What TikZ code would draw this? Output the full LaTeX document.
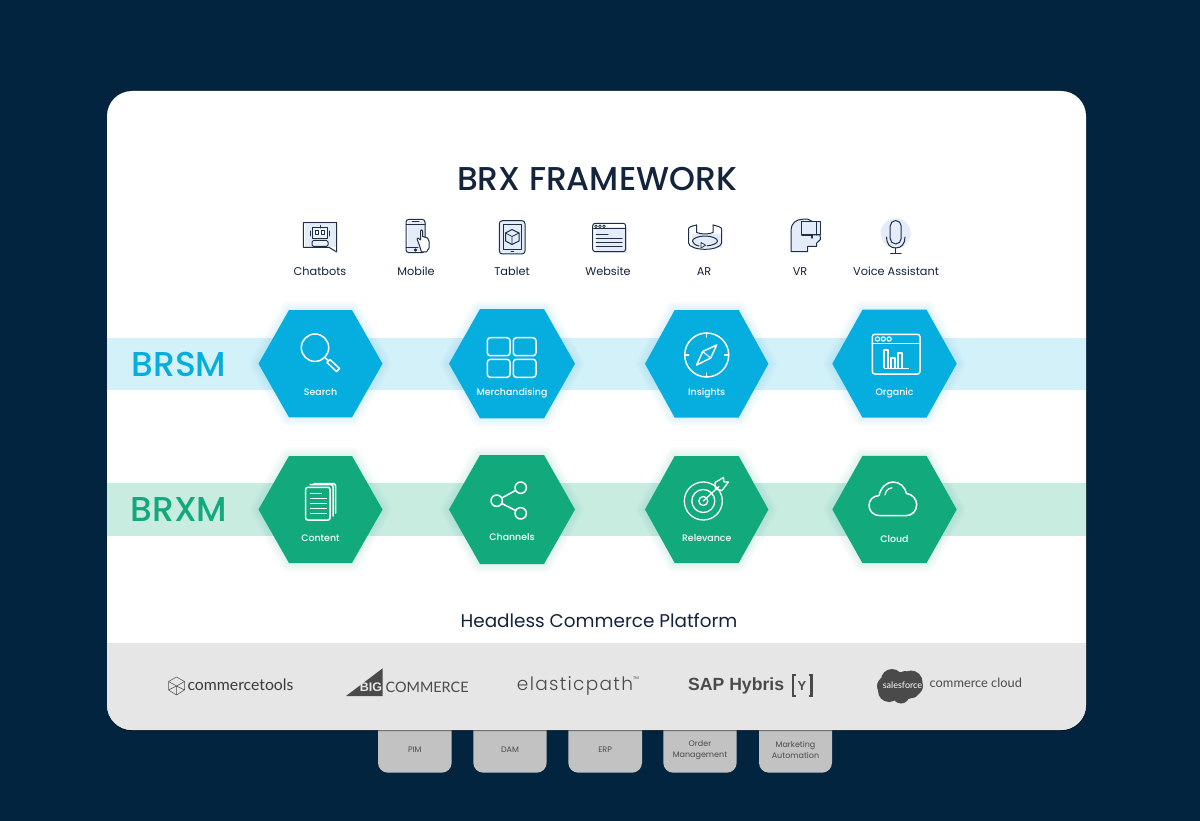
\documentclass[tikz,border=0pt]{standalone}
\usepackage{fontspec}
\setmainfont{Poppins}
\newfontfamily\pmed{Poppins Medium}
\newfontfamily\plightw[LetterSpace=7]{Poppins Light}
\newfontfamily\latof{Lato}
\newfontfamily\sansb{Liberation Sans}
\definecolor{bgnavy}{HTML}{03243F}
\definecolor{bluehex}{HTML}{05AEDF}
\definecolor{blueband}{HTML}{D3F1F9}
\definecolor{greenhex}{HTML}{12A97C}
\definecolor{greenband}{HTML}{C9ECE1}
\definecolor{grayband}{HTML}{E6E6E6}
\definecolor{tabgray}{HTML}{C2C2C2}
\definecolor{titleink}{HTML}{14243C}
\definecolor{iconink}{HTML}{1E2F45}
\definecolor{iconfill}{HTML}{E3ECF8}
\definecolor{logoink}{HTML}{4A4A4A}
\tikzset{
  x=1pt,y=-1pt,
  hexlabel/.style={text=white,font=\pmed\fontsize{9.4}{11}\selectfont,inner sep=0pt,anchor=base},
  toplabel/.style={text=titleink,font=\fontsize{11.3}{13}\selectfont,inner sep=0pt,anchor=base},
  tabtext/.style={text=logoink,font=\fontsize{8}{11.2}\selectfont,align=center,inner sep=0pt,anchor=center},
  wicon/.style={draw=white,line width=1.5pt,line join=round,line cap=round},
  dicon/.style={draw=iconink,line width=1pt,line join=round,line cap=round},
  bandlabel/.style={font=\pmed\fontsize{34.5}{38}\selectfont,inner sep=0pt,anchor=center},
}
% hexagon: colour, cx, cy, half width, half top, half height, name, label, label baseline y
\newcommand{\hexa}[9]{%
  \def\hexpath{(#2-#4,#3) -- (#2-#5,#3-#6) -- (#2+#5,#3-#6) -- (#2+#4,#3) -- (#2+#5,#3+#6) -- (#2-#5,#3+#6) -- cycle}%
  \foreach \w in {3,6,9,12,15,18}{\draw[#1,opacity=.018,line width=\w pt,line join=round] \hexpath;}
  \fill[#1] \hexpath;
  \node[hexlabel] (#7) at (#2,#9) {#8};
}
\newcommand{\tabbox}[4]{%
  \fill[tabgray,rounded corners=10] (#1,700) rectangle (#2,772.7);
  \node[tabtext] (#3) at ({(#1+#2)/2},750) {#4};
}
\begin{document}
\begin{tikzpicture}
\useasboundingbox (0,0) rectangle (1200,821);
\fill[bgnavy] (0,0) rectangle (1200,821);
% tabs
\tabbox{378}{451.7}{pim}{PIM}
\tabbox{473.3}{546.7}{dam}{DAM}
\tabbox{568.3}{642}{erp}{ERP}
\tabbox{663.3}{736.7}{order}{Order\\Management}
\tabbox{759}{832}{mkt}{Marketing\\Automation}
% card
\fill[black,opacity=.5,rounded corners=25] (107,100) rectangle (1086,731);
\fill[white,rounded corners=25] (107,91) rectangle (1086,730);
\begin{scope}
\clip[rounded corners=25] (107,91) rectangle (1086,730);
\fill[grayband] (107,642.7) rectangle (1086,730);
\end{scope}
% title
\node[inner sep=0pt,text=titleink,font=\pmed\fontsize{33}{38}\selectfont] (title) at (597,179) {BRX FRAMEWORK};
% bands
\fill[blueband] (107,337.7) rectangle (1086,390.3);
\fill[greenband] (107,483.3) rectangle (1086,536);
\node[bandlabel,text=bluehex] (brsm) at (179,364) {BRSM};
\node[bandlabel,text=greenhex] (brxm) at (179,510) {BRXM};
% hexagons
\hexa{bluehex}{320.5}{363.7}{62}{31.5}{53.7}{search}{Search}{395}
\hexa{bluehex}{512}{363.7}{63}{32}{54.7}{merch}{Merchandising}{395}
\hexa{bluehex}{706.7}{363.8}{61.7}{32}{53.8}{insights}{Insights}{395}
\hexa{bluehex}{894.5}{363.7}{62.2}{32}{54}{organic}{Organic}{395}
\hexa{greenhex}{320.5}{509.5}{62}{31.5}{53.5}{content}{Content}{541}
\hexa{greenhex}{512}{509.5}{63}{32}{54.5}{channels}{Channels}{540.3}
\hexa{greenhex}{706.7}{509.5}{61.7}{32}{53.5}{relevance}{Relevance}{541}
\hexa{greenhex}{894.5}{509.5}{62.2}{32}{53.7}{cloud}{Cloud}{542.3}
% search icon
\draw[wicon] (315,347.7) circle[radius=13.7];
\draw[wicon] (325,357.5) -- (328,360.5);
\draw[wicon] (327,362.5) -- (330,359.5) -- (339.5,368.5) -- (336.5,371.5) -- cycle;
% merchandising icon
\foreach \a/\b/\c/\d in {487.3/337.7/510/355.7,513.3/337.7/536/355.7,487.3/359.3/510/377.3,513.3/359.3/536/377.3}
  \draw[wicon,rounded corners=3] (\a,\b) rectangle (\c,\d);
% insights icon
\draw[wicon] (706.7,355) circle[radius=22];
\draw[wicon] (706.7,333) -- (706.7,337) (706.7,373) -- (706.7,377) (684.7,355) -- (688.7,355) (724.7,355) -- (728.7,355);
\draw[wicon] (716.7,345) -- (710.7,358) -- (696.7,365) -- (702.7,351.5) -- cycle;
\draw[white,line width=1pt] (702.7,351.5) -- (710.7,358);
% organic icon
\draw[wicon,rounded corners=2.5] (872.3,334.3) rectangle (920,374);
\draw[wicon] (872.3,343.3) -- (920,343.3);
\foreach \x in {877.5,883.3,889.2} \draw[white,line width=1.1pt] (\x,339) circle[radius=2.1];
\draw[white,line width=1.2pt,line join=round] (884,368.3) -- (884,350) -- (888,350) -- (888,368.3)
   (891,368.3) -- (891,358) -- (895,358) -- (895,368.3)
   (898,368.3) -- (898,353) -- (902,353) -- (902,368.3);
\draw[white,line width=1.2pt] (884,368.3) -- (908.5,368.3);
% content icon
\draw[wicon,rounded corners=2] (305.7,487.3) rectangle (330,520);
\foreach \y/\e in {493.5/322,498.5/326.5,503.5/326.5,508.5/326.5,513.5/326.5}
  \draw[white,line width=1.3pt] (309.5,\y) -- (\e,\y);
\draw[wicon,rounded corners=2] (310,484.5) -- (333,484.5) -- (333,516);
\draw[wicon,rounded corners=2] (314,483.7) -- (335.5,483.7) -- (335.5,513);
% channels icon
\draw[wicon] (520.7,487.7) circle[radius=5.7] (496.7,500.7) circle[radius=5.7] (520.7,513.3) circle[radius=5.7];
\draw[wicon] (501.7,498) -- (515.7,490.4) (501.7,503.4) -- (515.7,510.6);
% relevance icon
\draw[wicon,line width=1.3pt] (703.3,501) circle[radius=19];
\draw[wicon,line width=1.3pt] (703.3,501) circle[radius=11.5];
\draw[wicon,line width=1.3pt] (703.3,501) circle[radius=4.5];
\draw[wicon,line width=1.3pt] (703.3,501) -- (719,486.5);
\draw[wicon,line width=1.3pt] (715.5,489) -- (715,482.5) -- (723.5,477.5) -- (724,482) -- (728.5,482) -- (722,490.5) -- cycle;
% cloud icon
\draw[wicon] (880,515.7) .. controls (873,515.7) and (869,510.5) .. (869,505.5)
  .. controls (869,500) and (873,496) .. (879,495.5)
  .. controls (881,487) and (887,482) .. (893,482)
  .. controls (900,482) and (905,487) .. (906.5,493.5)
  .. controls (912,494) and (916.7,499) .. (916.7,504.5)
  .. controls (916.7,511) and (912,515.7) .. (906,515.7) -- cycle;
\draw[wicon,line width=1.2pt] (885,495) .. controls (885.5,491) and (888,488.5) .. (892,487.8);
% --- top icons ---
% chatbot
\fill[iconfill] (305,224) rectangle (337,247);
\draw[dicon] (303.3,222.7) -- (336.7,222.7) -- (336.7,252) -- (329,247.3) -- (303.3,247.3) -- cycle;
\draw[dicon,fill=iconfill!70] (312.5,228) rectangle (327.5,238.5);
\draw[dicon,fill=white] (315.5,231) rectangle (318.8,234.5) (321.2,231) rectangle (324.5,234.5);
\draw[dicon] (320,225.5) -- (320,228) (310.5,231) -- (310.5,236) (329.5,231) -- (329.5,236);
\draw[dicon,fill=iconfill!70,rounded corners=1.5] (312,240.5) rectangle (328,246.5);
% mobile
\fill[iconfill] (408,221) rectangle (426,251);
\draw[dicon,rounded corners=3] (406,219.3) rectangle (425,252.7);
\draw[dicon] (406,224.5) -- (425,224.5) (406,247.5) -- (418,247.5) (412,222) -- (419,222);
\draw[dicon] (415.5,250) circle[radius=1.2];
\draw[dicon,fill=white] (419,244) -- (417,239) -- (418,238) -- (420.5,240) -- (420.5,231) .. controls (420.5,229.5) and (422.5,229.5) .. (422.5,231) -- (422.5,236.5) -- (427.5,238) -- (429,241) -- (429,248) -- (426.5,252) -- (421.5,252) -- cycle;
% tablet
\draw[dicon,rounded corners=3,fill=iconfill] (499.3,220.7) rectangle (525,254);
\draw[dicon,fill=white] (503,224.5) rectangle (521.5,249.5);
\fill[iconfill] (503.5,225) rectangle (521,249);
\draw[dicon] (512,229.5) -- (519,233) -- (519,241) -- (512,244.5) -- (505.5,241) -- (505.5,233) -- cycle;
\draw[dicon,line width=.7pt] (505.5,233) -- (512,236.5) -- (519,233) (512,236.5) -- (512,244.5);
\draw[dicon] (511,251.8) -- (513.5,251.8);
% website
\fill[iconfill] (596,227) rectangle (627,253);
\draw[dicon,rounded corners=2.5] (592.7,223.3) rectangle (625.6,251.7);
\draw[dicon] (592.7,229) -- (625.6,229);
\foreach \x in {596,600,604} \draw[dicon,line width=.7pt] (\x,226.2) circle[radius=1.4];
\draw[dicon] (596,235) -- (608,235);
\draw[dicon] (596,239) -- (622,239) (596,243) -- (622,243) (596,247) -- (622,247);
% AR
\fill[iconfill] (692,234) rectangle (722,248);
\draw[dicon] (696.7,225) -- (696.7,232.5) .. controls (701,234.5) and (709,234.5) .. (713,232.5) -- (713,225);
\draw[dicon] (696.7,225) .. controls (692,226) and (688.5,227) .. (688.5,229) -- (688.5,243) .. controls (689,247) and (697,249.3) .. (705,249.3) .. controls (713,249.3) and (721,247) .. (721.7,243) -- (721.7,229) .. controls (721.7,227) and (717,226) .. (713,225);
\draw[dicon] (699,246) .. controls (695,245) and (692.5,243) .. (692.5,241) .. controls (692.5,238.5) and (698,236) .. (705,236) .. controls (712,236) and (717.5,238.5) .. (717.5,241) .. controls (717.5,243.5) and (712,245.5) .. (707,245.8);
\draw[dicon,fill=white,line width=.8pt] (701,242.5) -- (705.5,245.2) -- (701,248) -- cycle;
% VR
\draw[dicon,fill=iconfill] (791,251.7) -- (791,230) .. controls (791,223.5) and (796,219.2) .. (803,219.2) -- (808,219.2) -- (813,222) -- (813,235) -- (820,235) -- (820.5,239.5) -- (816.7,243) -- (816.7,246.5) -- (807.5,246.5) -- (807.5,251.7) -- cycle;
\draw[dicon,fill=iconfill] (801.7,222) rectangle (820.7,235);
\draw[dicon,line width=1.4pt] (816.5,222) -- (816.5,235);
\draw[dicon,line width=1.2pt] (801.7,235) -- (812,235) -- (812,238);
% microphone
\fill[iconfill] (895.7,233.3) circle[radius=15];
\draw[dicon,rounded corners=5.5] (890.2,220.5) rectangle (901.2,244);
\draw[dicon] (886.5,237) .. controls (886.5,244) and (890,248) .. (895.7,248) .. controls (901.5,248) and (905,244) .. (905,237);
\draw[dicon] (895.7,248) -- (895.7,253) (890.5,253.2) -- (901,253.2);
% top labels
\node[toplabel] (l1) at (320,275.2) {Chatbots};
\node[toplabel] (l2) at (416,275.2) {Mobile};
\node[toplabel] (l3) at (512,275.2) {Tablet};
\node[toplabel] (l4) at (608,275.2) {Website};
\node[toplabel] (l5) at (704,275.2) {AR};
\node[toplabel] (l6) at (800,275.2) {VR};
\node[toplabel] (l7) at (896,275.2) {Voice Assistant};
% platform heading
\node[inner sep=0pt,text=titleink,font=\fontsize{18.4}{20}\selectfont] (platform) at (599,620.5) {Headless Commerce Platform};
% commercetools
\draw[logoink,line width=.5pt,line join=round] (176.5,677) -- (184.5,681.5) -- (184.5,690) -- (176.5,695) -- (168.5,690) -- (168.5,681.5) -- cycle (168.5,681.5) -- (176.5,686) -- (184.5,681.5) (176.5,686) -- (176.5,695) (168.5,690) -- (176.5,686) -- (184.5,690);
\node[inner sep=0pt,text=logoink!80!black,font=\latof\fontsize{15.8}{18}\selectfont] (ctools) at (240.5,685) {commercetools};
% bigcommerce
\fill[logoink] (346,696) -- (382.7,668.3) -- (382.7,696) -- cycle;
\node[inner sep=0pt,text=grayband,font=\sansb\bfseries\fontsize{12.5}{14}\selectfont] (big) at (371,687) {BIG};
\node[inner sep=0pt,text=logoink,font=\latof\fontsize{14.4}{17}\selectfont,anchor=west] (comm) at (385.5,687) {COMMERCE};
% elastic path
\node[inner sep=0pt,text=logoink,font=\plightw\fontsize{18.5}{20}\selectfont] (elastic) at (575,685.5) {elasticpath};
\node[inner sep=0pt,text=logoink,font=\fontsize{4}{5}\selectfont] (tm) at (636,678) {TM};
% SAP
\node[inner sep=0pt,text=logoink,font=\sansb\bfseries\fontsize{17.6}{20}\selectfont,anchor=west] (sap) at (688,686) {SAP Hybris};
\node[inner sep=0pt,text=logoink,font=\sansb\bfseries\fontsize{13}{16}\selectfont] (sapy) at (802,686) {Y};
\draw[logoink,line width=2.4pt] (796,675) -- (793,675) -- (793,696) -- (796,696) (808.5,675) -- (811.5,675) -- (811.5,696) -- (808.5,696);
% salesforce
\fill[logoink] (900,686) ellipse[x radius=23,y radius=14]
 (892,680) circle[radius=11] (905,677) circle[radius=6] (911,682) circle[radius=11.5] (889,691) circle[radius=11] (901,695) circle[radius=8.5] (912,691) circle[radius=7];
\node[inner sep=0pt,text=white,font=\latof\fontsize{9}{12}\selectfont] (sf) at (902.5,685) {salesforce};
\node[inner sep=0pt,text=logoink,font=\latof\fontsize{12.8}{15}\selectfont,anchor=west] (cc) at (929.5,683) {commerce cloud};
\end{tikzpicture}
\end{document}
